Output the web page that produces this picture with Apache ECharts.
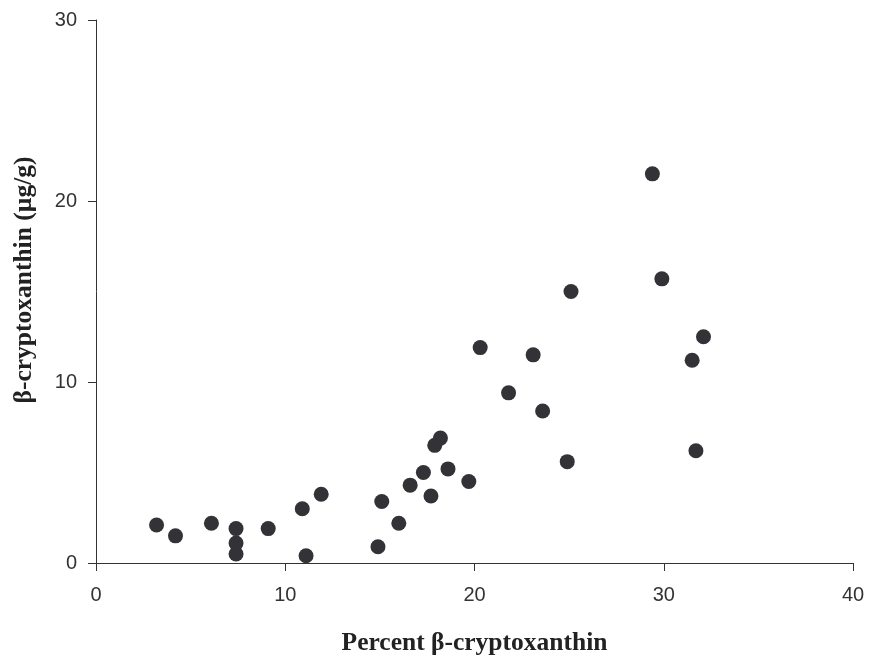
<!DOCTYPE html>
<html>
<head>
<meta charset="utf-8">
<script src="https://cdn.jsdelivr.net/npm/echarts@6/dist/echarts.min.js"></script>
<style>
  html, body { margin: 0; padding: 0; background: #fff; }
  #chart { width: 869px; height: 661px; }
</style>
</head>
<body>
<div id="chart"></div>
<script>
// percent beta-cryptoxanthin (x) vs beta-cryptoxanthin ug/g (y)
const percentValues = [
  3.2, 4.2, 6.1, 7.4, 7.4, 7.4, 9.1, 10.9, 11.9, 11.1,
  14.9, 16.0, 15.1, 16.6, 17.3, 17.7, 17.9, 18.2, 18.6, 19.7,
  21.8, 23.6, 24.9, 29.4, 29.9, 25.1, 20.3, 23.1, 32.1, 31.5, 31.7
];
const contentValues = [
  2.1, 1.5, 2.2, 1.9, 1.1, 0.5, 1.9, 3.0, 3.8, 0.4,
  0.9, 2.2, 3.4, 4.3, 5.0, 3.7, 6.5, 6.9, 5.2, 4.5,
  9.4, 8.4, 5.6, 21.5, 15.7, 15.0, 11.9, 11.5, 12.5, 11.2, 6.2
];
const xTicks = [0, 10, 20, 30, 40];
const yTicks = [0, 10, 20, 30];

const chart = echarts.init(document.getElementById('chart'));

const titleFont = {
  fill: '#222',
  fontFamily: 'Liberation Serif, Times New Roman, serif',
  fontWeight: 'bold',
  fontSize: 25.5
};

const axisCommon = {
  type: 'value',
  splitLine: { show: false },
  axisLine: { show: true, lineStyle: { color: '#333', width: 1 } },
  axisTick: { show: true, inside: false, length: 8, lineStyle: { color: '#333' } },
  axisLabel: { color: '#333', fontFamily: 'Liberation Sans, Arial, sans-serif', fontSize: 20 }
};

const option = {
  animation: false,
  backgroundColor: '#fff',
  grid: { left: 96, right: 16, top: 20, bottom: 96.5, containLabel: false },
  xAxis: Object.assign({}, axisCommon, {
    min: xTicks[0],
    max: xTicks[xTicks.length - 1],
    interval: 10,
    name: 'Percent β-cryptoxanthin',
    nameLocation: 'middle',
    nameGap: 67,
    nameTextStyle: {
      color: titleFont.fill,
      fontFamily: titleFont.fontFamily,
      fontWeight: 'bold',
      fontSize: titleFont.fontSize
    },
    axisLabel: Object.assign({}, axisCommon.axisLabel, { margin: 22 })
  }),
  yAxis: Object.assign({}, axisCommon, {
    min: yTicks[0],
    max: yTicks[yTicks.length - 1],
    interval: 10,
    axisLabel: Object.assign({}, axisCommon.axisLabel, { margin: 19 })
  }),
  // y title sits a little above the axis middle in the original
  graphic: [{
    type: 'text',
    x: 24,
    y: 280,
    rotation: Math.PI / 2,
    style: Object.assign({
      text: 'β-cryptoxanthin (µg/g)',
      align: 'center',
      verticalAlign: 'middle'
    }, titleFont)
  }],
  series: [{
    type: 'scatter',
    symbol: 'circle',
    symbolSize: 15,
    itemStyle: { color: '#333337', opacity: 1 },
    data: percentValues.map((v, i) => [v, contentValues[i]])
  }]
};

chart.setOption(option);
</script>
</body>
</html>
